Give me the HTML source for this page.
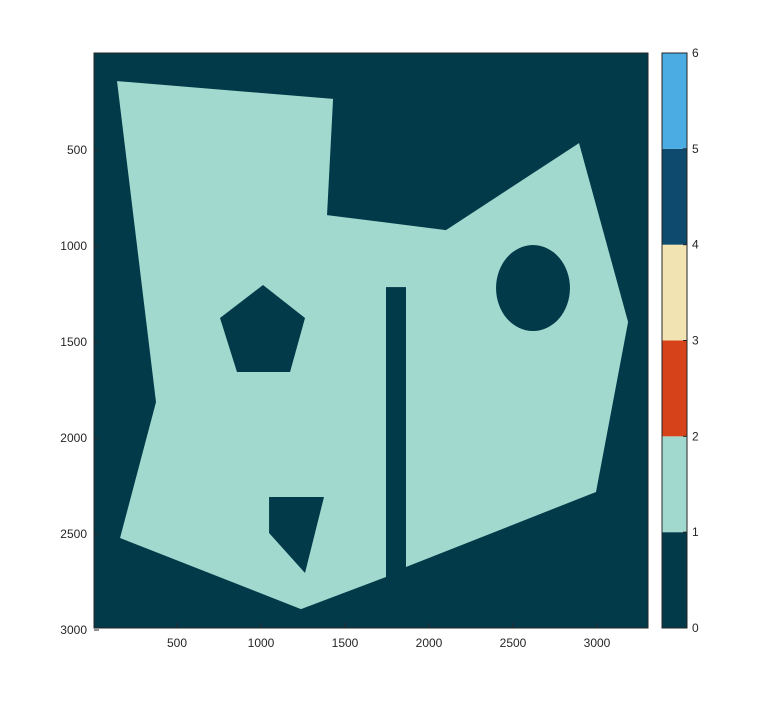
<!DOCTYPE html>
<html><head><meta charset="utf-8"><style>
body{margin:0;background:#fff;width:784px;height:707px;overflow:hidden;font-family:"Liberation Sans",sans-serif}
svg text{font-family:"Liberation Sans",sans-serif;font-size:12px;fill:#262626}
</style></head><body>
<svg width="784" height="707">
<g id="plot"></g>
</svg>
<script>
const xTicks=[500,1000,1500,2000,2500,3000];
const yTicks=[500,1000,1500,2000,2500,3000];
const cbTicks=[0,1,2,3,4,5,6];
const cbColors=["#033a4a","#a1d9cf","#d6431a","#f2e3b3","#0e4a6e","#4bace3"];
const outerPoly=[[143,141],[1429,234],[1393,839],[2101,917],[2893,464],[3185,1396],[2994,2281],[1863,2672],[1744,2724],[1238,2891],[161,2521],[375,1813]];
const pentagon=[[1012,1203],[1262,1375],[1173,1656],[857,1656],[756,1375]];
const triangle=[[1048,2307],[1375,2307],[1262,2703],[1048,2495]];
const ellipse=[2619,1219,220,224];
const bar=[1744,1863,1214];
const X0=94,X1=648,Y0=53,Y1=628,XMAX=3304,YMAX=3000;
const sx=v=>93+v*0.168, sy=v=>54+v*0.192;
const ns="http://www.w3.org/2000/svg",g=document.getElementById('plot');
function mk(t,a){const e=document.createElementNS(ns,t);for(const k in a)e.setAttribute(k,a[k]);g.appendChild(e);return e;}
const pts=p=>p.map(q=>sx(q[0])+","+sy(q[1])).join(" ");
let e=mk('rect',{x:X0,y:Y0,width:X1-X0,height:Y1-Y0,fill:cbColors[0]});


e=mk('polygon',{points:pts(outerPoly),fill:cbColors[1]});


e=mk('polygon',{points:pts(pentagon),fill:cbColors[0]});


e=mk('polygon',{points:pts(triangle),fill:cbColors[0]});


e=mk('ellipse',{cx:sx(ellipse[0]),cy:sy(ellipse[1]),rx:ellipse[2]*0.168,ry:ellipse[3]*0.192,fill:cbColors[0]});


e=mk('rect',{x:sx(bar[0]),y:sy(bar[2]),width:(bar[1]-bar[0])*0.168,height:Y1-sy(bar[2]),fill:cbColors[0]});


e=mk('rect',{x:X0,y:Y0,width:X1-X0,height:Y1-Y0,fill:"none",stroke:"#262626","stroke-width":1});


xTicks.forEach(v=>{const x=sx(v);
 mk('line',{x1:x,x2:x,y1:Y1,y2:Y1-5,stroke:"#262626"});
 const t=mk('text',{x:x,y:Y1+19,"text-anchor":"middle"});t.textContent=v;
 
 });
yTicks.forEach(v=>{const y=sy(v);
 mk('line',{x1:X0,x2:X0+5,y1:y,y2:y,stroke:"#262626"});
 const t=mk('text',{x:X0-7,y:y+4,"text-anchor":"end"});t.textContent=v;
 
 });
const CX=662,CW=25,ch=(Y1-Y0)/6;
cbColors.forEach((c,i)=>{const r=mk('rect',{x:CX,y:Y1-(i+1)*ch,width:CW,height:ch,fill:c});
 
 });
e=mk('rect',{x:CX,y:Y0,width:CW,height:Y1-Y0,fill:"none",stroke:"#262626"});


cbTicks.forEach(v=>{const y=Y1-v*ch;
 mk('line',{x1:CX+CW-4,x2:CX+CW,y1:y,y2:y,stroke:"#262626"});
 const t=mk('text',{x:CX+CW+5,y:y+4,"font-size":"11"});t.textContent=v;
 
 });
</script>
</body></html>
